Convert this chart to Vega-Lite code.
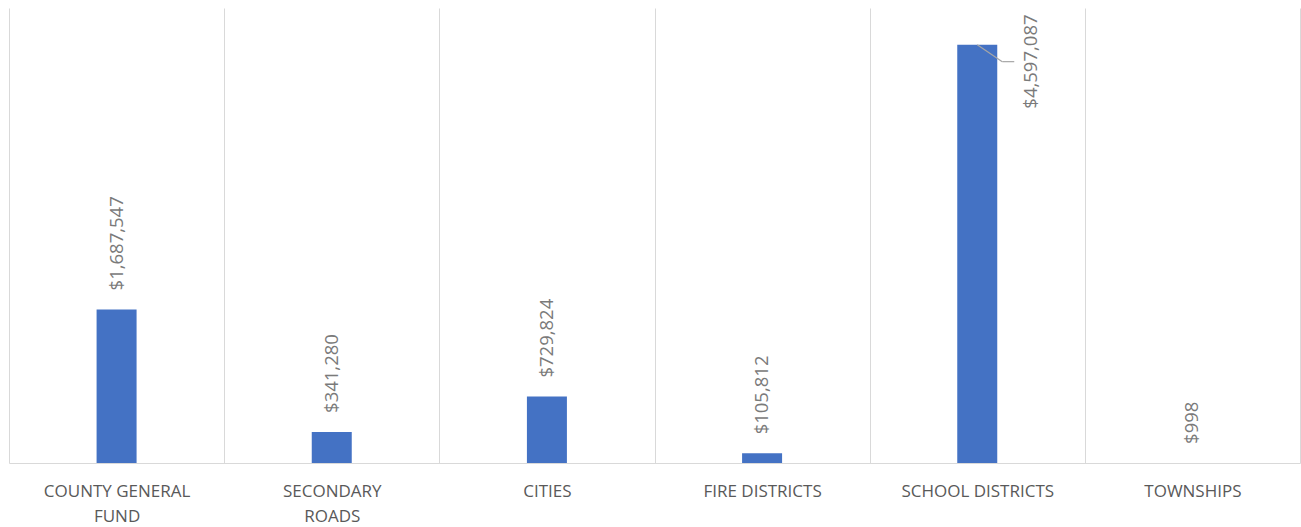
{
  "$schema": "https://vega.github.io/schema/vega-lite/v6.json",
  "width": 1291,
  "height": 455,
  "autosize": {"type": "none"},
  "padding": {"left": 9, "top": 8, "right": 1, "bottom": 64},
  "background": "white",
  "view": {"stroke": null},
  "data": {
    "values": [
      {"category": "COUNTY GENERAL FUND", "value": 1687547},
      {"category": "SECONDARY ROADS", "value": 341280},
      {"category": "CITIES", "value": 729824},
      {"category": "FIRE DISTRICTS", "value": 105812},
      {"category": "SCHOOL DISTRICTS", "value": 4597087},
      {"category": "TOWNSHIPS", "value": 998}
    ]
  },
  "encoding": {
    "x": {
      "field": "category",
      "type": "nominal",
      "sort": null,
      "scale": {"paddingInner": 0, "paddingOuter": 0},
      "axis": {
        "title": null,
        "labelAngle": 0,
        "tickBand": "extent",
        "grid": true,
        "gridColor": "#d9d9d9",
        "gridWidth": 1,
        "ticks": false,
        "domain": true,
        "domainColor": "#d9d9d9",
        "domainWidth": 1,
        "labelFont": "Open Sans",
        "labelFontSize": 17,
        "labelColor": "#595959",
        "labelPadding": 20,
        "labelBaseline": "top",
        "labelLineHeight": 25,
        "labelExpr": "datum.value == 'COUNTY GENERAL FUND' ? ['COUNTY GENERAL', 'FUND'] : datum.value == 'SECONDARY ROADS' ? ['SECONDARY', 'ROADS'] : datum.value"
      }
    },
    "y": {
      "field": "value",
      "type": "quantitative",
      "scale": {"domain": [0, 5000000], "nice": false},
      "axis": null
    }
  },
  "layer": [
    {
      "mark": {"type": "bar", "color": "#4472C4", "width": 40}
    },
    {
      "transform": [{"filter": "datum.category != 'SCHOOL DISTRICTS'"}],
      "mark": {
        "type": "text",
        "angle": 270,
        "align": "left",
        "baseline": "middle",
        "dx": 19,
        "font": "Open Sans",
        "fontSize": 18.5,
        "color": "#7a7a7a"
      },
      "encoding": {"text": {"field": "value", "type": "quantitative", "format": "$,.0f"}}
    },
    {
      "transform": [{"filter": "datum.category == 'SCHOOL DISTRICTS'"}],
      "mark": {
        "type": "text",
        "angle": 270,
        "align": "left",
        "baseline": "middle",
        "dx": -64,
        "dy": 54,
        "font": "Open Sans",
        "fontSize": 18.5,
        "color": "#7a7a7a"
      },
      "encoding": {"text": {"field": "value", "type": "quantitative", "format": "$,.0f"}}
    },
    {
      "transform": [{"filter": "datum.category == 'SCHOOL DISTRICTS'"}],
      "mark": {"type": "rule", "color": "#a6a6a6", "strokeWidth": 1.2, "x2Offset": 25, "y2Offset": 17},
      "encoding": {
        "x2": {"field": "category"},
        "y2": {"field": "value"}
      }
    },
    {
      "transform": [{"filter": "datum.category == 'SCHOOL DISTRICTS'"}],
      "mark": {"type": "rule", "color": "#a6a6a6", "strokeWidth": 1.2, "xOffset": 25, "x2Offset": 37, "yOffset": 17, "y2Offset": 17},
      "encoding": {
        "x2": {"field": "category"},
        "y2": {"field": "value"}
      }
    }
  ]
}
